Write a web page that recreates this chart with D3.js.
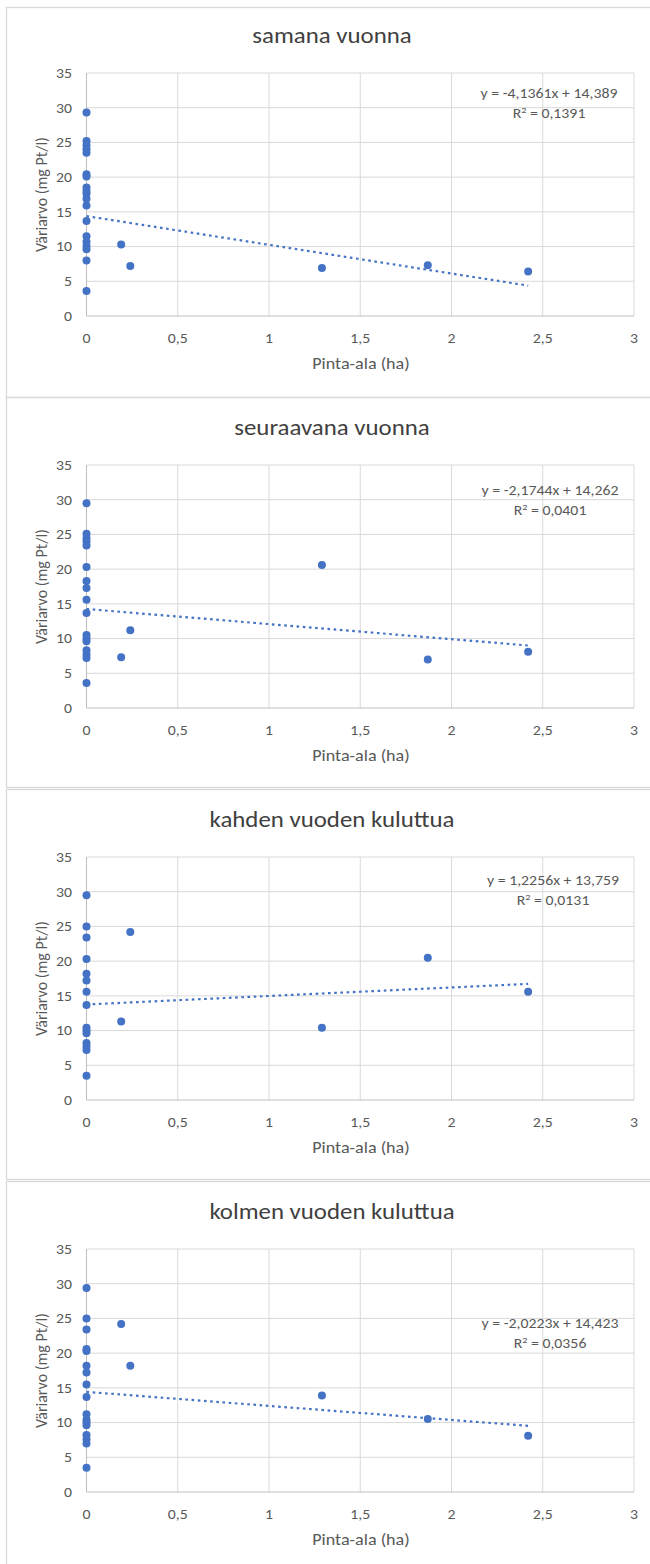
<!DOCTYPE html>
<html>
<head>
<meta charset="utf-8">
<script src="https://cdn.jsdelivr.net/npm/d3@7"></script>
<style>
  body { margin: 0; background: #fff; }
  svg { display: block; font-family: Carlito, Calibri, Lato, sans-serif; }
  .tick-label { fill: #595959; font-size: 14px; }
  .axis-title { fill: #595959; font-size: 16px; }
  .chart-title { fill: #404040; font-size: 22px; }
  .eq { fill: #595959; font-size: 14px; }
</style>
</head>
<body>
<div id="chart"></div>
<script>
// Chart titles (one per panel)
const titles = ['samana vuonna', 'seuraavana vuonna', 'kahden vuoden kuluttua', 'kolmen vuoden kuluttua'];

// Axis ticks
const xTicks = [0, 0.5, 1, 1.5, 2, 2.5, 3];
const xTickLabels = ['0', '0,5', '1', '1,5', '2', '2,5', '3'];
const yTicks = [0, 5, 10, 15, 20, 25, 30, 35];

// Areas (ha) of the sites with a clearing
const siteArea = [0.19, 0.24, 1.29, 1.87, 2.42];

// Colour values at sites with area 0, per panel
const zeroY1 = [29.3, 25.2, 24.6, 24.0, 23.5, 20.4, 20.1, 18.5, 18.0, 17.6, 16.9, 15.9, 13.7, 11.5, 10.7, 10.1, 9.6, 8.0, 3.6];
const zeroY2 = [29.5, 25.1, 24.5, 24.0, 23.4, 20.3, 18.3, 17.3, 15.6, 13.7, 10.5, 10.0, 9.6, 8.3, 7.7, 7.2, 3.6];
const zeroY3 = [29.5, 25.0, 23.4, 20.3, 18.2, 17.2, 15.6, 13.7, 10.4, 10.0, 9.6, 8.2, 7.7, 7.2, 3.5];
const zeroY4 = [29.4, 25.0, 23.4, 20.6, 20.3, 18.2, 17.2, 15.5, 13.7, 11.2, 10.4, 10.0, 9.6, 8.2, 7.6, 7.0, 3.5];

// Colour values at the cleared sites (same order as siteArea), per panel
const siteY1 = [10.3, 7.2, 6.9, 7.3, 6.4];
const siteY2 = [7.3, 11.2, 20.6, 7.0, 8.1];
const siteY3 = [11.3, 24.2, 10.4, 20.5, 15.6];
const siteY4 = [24.2, 18.2, 13.9, 10.5, 8.1];

// Linear trendlines as printed on the chart
const slopes = [-4.1361, -2.1744, 1.2256, -2.0223];
const intercepts = [14.389, 14.262, 13.759, 14.423];
const eqTexts = ['y = -4,1361x + 14,389', 'y = -2,1744x + 14,262', 'y = 1,2256x + 13,759', 'y = -2,0223x + 14,423'];
const r2Texts = ['0,1391', '0,0401', '0,0131', '0,0356'];

const zeroY = [zeroY1, zeroY2, zeroY3, zeroY4];
const siteY = [siteY1, siteY2, siteY3, siteY4];

// Layout
const width = 650, height = 1564;
const panelTop = [7.5, 397.5, 789.5, 1181.5];
const plotTop = [73, 465, 857, 1249];
const plotH = 243;
const plotLeft = 86.5, plotRight = 634;
const eqX = [549, 550, 553, 550];
const eqDy = [24.5, 30, 28, 78.5];
const color = '#4472C4';
const stretch = 1.13; // the source text is a little wider than Lato

const svg = d3.select('#chart').append('svg')
  .attr('width', width)
  .attr('height', height);

const x = d3.scaleLinear().domain([0, 3]).range([plotLeft, plotRight]);

// Places a horizontal text label, widened a bit to match the source
function label(sel, cls, px, py, anchor) {
  return sel.append('text')
    .attr('class', cls)
    .attr('text-anchor', anchor)
    .attr('transform', `translate(${px},${py}) scale(${stretch},1)`);
}

titles.forEach((title, i) => {
  const top = plotTop[i];
  const y = d3.scaleLinear().domain([0, 35]).range([top + plotH, top]);
  const g = svg.append('g');

  // Chart border
  g.append('rect')
    .attr('x', 6.5).attr('y', panelTop[i])
    .attr('width', 700).attr('height', 390)
    .attr('fill', 'none')
    .attr('stroke', '#d9d9d9')
    .attr('stroke-width', 1.3);

  // Gridlines
  g.append('g').selectAll('line').data(yTicks.filter(d => d > 0)).join('line')
    .attr('x1', plotLeft).attr('x2', plotRight)
    .attr('y1', d => y(d)).attr('y2', d => y(d))
    .attr('stroke', '#d9d9d9');
  g.append('g').selectAll('line').data(xTicks.filter(d => d > 0)).join('line')
    .attr('x1', d => x(d)).attr('x2', d => x(d))
    .attr('y1', top).attr('y2', top + plotH)
    .attr('stroke', '#d9d9d9');

  // Axis lines
  g.append('line')
    .attr('x1', plotLeft).attr('x2', plotRight)
    .attr('y1', y(0)).attr('y2', y(0))
    .attr('stroke', '#bfbfbf');
  g.append('line')
    .attr('x1', plotLeft).attr('x2', plotLeft)
    .attr('y1', top).attr('y2', top + plotH)
    .attr('stroke', '#bfbfbf');

  // Tick labels
  yTicks.forEach(d => {
    label(g, 'tick-label', plotLeft - 14.5, y(d), 'end')
      .attr('dy', '0.35em')
      .text(d);
  });
  xTicks.forEach((d, k) => {
    label(g, 'tick-label', x(d), y(0) + 27, 'middle')
      .text(xTickLabels[k]);
  });

  // Titles
  label(g, 'chart-title', 332, top - 30, 'middle').text(title);
  label(g, 'axis-title', 361, y(0) + 53, 'middle').text('Pinta-ala (ha)');
  g.append('text')
    .attr('class', 'axis-title')
    .attr('transform', `translate(47,${top + plotH / 2}) rotate(-90)`)
    .attr('text-anchor', 'middle')
    .text('Väriarvo (mg Pt/l)');

  // Points
  const pts = zeroY[i].map(v => [0, v])
    .concat(siteArea.map((a, k) => [a, siteY[i][k]]));

  // Trendline from 0 to the largest area
  const xMax = d3.max(pts, d => d[0]);
  const line = d3.line().x(d => x(d)).y(d => y(slopes[i] * d + intercepts[i]));
  g.append('path')
    .attr('d', line([0, xMax]))
    .attr('fill', 'none')
    .attr('stroke', color)
    .attr('stroke-width', 2.2)
    .attr('stroke-dasharray', '2.6,3.6');

  g.append('g').selectAll('circle').data(pts).join('circle')
    .attr('cx', d => x(d[0]))
    .attr('cy', d => y(d[1]))
    .attr('r', 4)
    .attr('fill', color);

  // Trendline equation and R²
  label(g, 'eq', eqX[i], top + eqDy[i], 'middle').text(eqTexts[i]);
  const r2 = label(g, 'eq', eqX[i], top + eqDy[i] + 20, 'middle');
  r2.append('tspan').text('R');
  r2.append('tspan').attr('dy', -5).attr('font-size', '9px').text('2');
  r2.append('tspan').attr('dy', 5).text(' = ' + r2Texts[i]);
});
</script>
</body>
</html>
